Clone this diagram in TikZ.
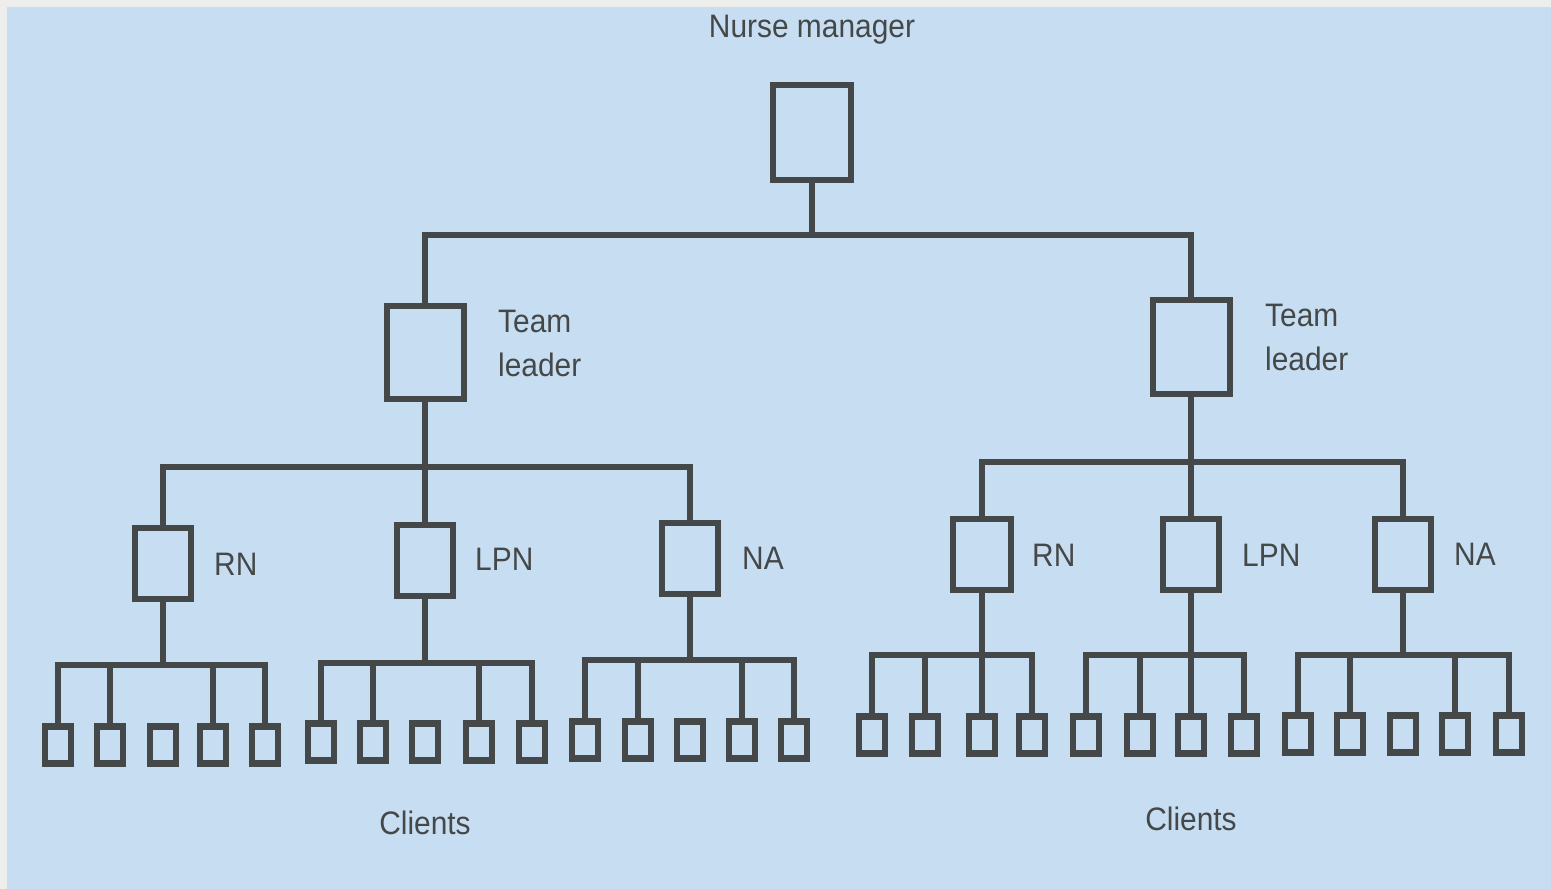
\documentclass[tikz,border=0pt]{standalone}
\usepackage{fontspec}
\setmainfont[FakeStretch=0.92]{Liberation Sans}
\definecolor{paper}{HTML}{C7DEF2}
\definecolor{edge}{HTML}{EDEDEB}
\definecolor{ink}{HTML}{454848}
\tikzset{
  box/.style={draw=ink, line width=6pt, rectangle, inner sep=0pt},
  bigbox/.style={box, minimum width=78pt, minimum height=95pt},
  midbox/.style={box, minimum width=56pt, minimum height=71pt},
  client/.style={box, line width=6.5pt, minimum width=26pt, minimum height=37pt},
  link/.style={draw=ink, line width=6pt, line join=miter},
  lbl/.style={text=ink, font=\fontsize{32.5}{44}\selectfont, inner sep=0pt}
}
\begin{document}
\begin{tikzpicture}[x=1pt,y=-1pt]
\useasboundingbox (0,0) rectangle (1551,889);
\fill[paper] (0,0) rectangle (1551,889);
\fill[edge] (0,0) rectangle (1551,7);
\fill[edge] (0,0) rectangle (7,889);

% top level
\node[bigbox] (nm) at (812,132) {};
\node[lbl, anchor=base] (tnm) at (812,37) {Nurse manager};

% team leaders
\node[bigbox, minimum width=77pt, minimum height=93pt] (tl1) at (425,352) {};
\node[bigbox, minimum width=77pt, minimum height=94pt] (tl2) at (1191,347) {};
\node[lbl, anchor=north west, align=left] (ttl1) at (498,310) {Team\\leader};
\node[lbl, anchor=north west, align=left] (ttl2) at (1265,304) {Team\\leader};

\coordinate (j0) at (812,235);
\draw[link] (nm.south) -- (j0);
\draw[link] (tl1.north) |- (j0) -| (tl2.north);

% left team members
\node[midbox] (rn1) at (163,563) {};
\node[midbox] (lpn1) at (425,560) {};
\node[midbox] (na1) at (690,558) {};
\node[lbl, anchor=base west] (trn1) at (214,575) {RN};
\node[lbl, anchor=base west] (tlpn1) at (475,570) {LPN};
\node[lbl, anchor=base west] (tna1) at (742,569) {NA};
\coordinate (j1) at (425,467);
\draw[link] (tl1.south) -- (j1);
\draw[link] (rn1.north) |- (j1) -| (na1.north);
\draw[link] (lpn1.north) -- (j1);

% right team members
\node[midbox, minimum width=58pt] (rn2) at (982,554) {};
\node[midbox] (lpn2) at (1191,554) {};
\node[midbox] (na2) at (1403,554) {};
\node[lbl, anchor=base west] (trn2) at (1032,566) {RN};
\node[lbl, anchor=base west] (tlpn2) at (1242,566) {LPN};
\node[lbl, anchor=base west] (tna2) at (1454,565) {NA};
\coordinate (j2) at (1191,462);
\draw[link] (tl2.south) -- (j2);
\draw[link] (rn2.north) |- (j2) -| (na2.north);
\draw[link] (lpn2.north) -- (j2);

% clients of left RN
\foreach \x [count=\i] in {58,110,163,213,265} \node[client] (a\i) at (\x,745) {};
\coordinate (ja) at (163,665);
\draw[link] (rn1.south) -- (ja);
\draw[link] (a1.north) |- (ja) -| (a5.north);
\foreach \i in {2,4} \draw[link] (a\i.north) -- (a\i.north |- ja);

% clients of left LPN
\foreach \x [count=\i] in {321,373,425,479,532} \node[client] (b\i) at (\x,742) {};
\coordinate (jb) at (425,663);
\draw[link] (lpn1.south) -- (jb);
\draw[link] (b1.north) |- (jb) -| (b5.north);
\foreach \i in {2,4} \draw[link] (b\i.north) -- (b\i.north |- jb);

% clients of left NA
\foreach \x [count=\i] in {585,638,690,742,794} \node[client] (c\i) at (\x,740) {};
\coordinate (jc) at (690,660);
\draw[link] (na1.south) -- (jc);
\draw[link] (c1.north) |- (jc) -| (c5.north);
\foreach \i in {2,4} \draw[link] (c\i.north) -- (c\i.north |- jc);

% clients of right RN
\foreach \x [count=\i] in {872,925,982,1032} \node[client] (d\i) at (\x,735) {};
\coordinate (jd) at (982,655);
\draw[link] (rn2.south) -- (jd);
\draw[link] (d1.north) |- (jd) -| (d4.north);
\foreach \i in {2,3} \draw[link] (d\i.north) -- (d\i.north |- jd);

% clients of right LPN
\foreach \x [count=\i] in {1086,1140,1191,1244} \node[client] (e\i) at (\x,735) {};
\coordinate (je) at (1191,655);
\draw[link] (lpn2.south) -- (je);
\draw[link] (e1.north) |- (je) -| (e4.north);
\foreach \i in {2,3} \draw[link] (e\i.north) -- (e\i.north |- je);

% clients of right NA
\foreach \x [count=\i] in {1298,1350,1403,1455,1509} \node[client] (f\i) at (\x,734) {};
\coordinate (jf) at (1403,655);
\draw[link] (na2.south) -- (jf);
\draw[link] (f1.north) |- (jf) -| (f5.north);
\foreach \i in {2,4} \draw[link] (f\i.north) -- (f\i.north |- jf);

\node[lbl, anchor=base] (tcl1) at (425,834) {Clients};
\node[lbl, anchor=base] (tcl2) at (1191,830) {Clients};
\end{tikzpicture}
\end{document}
